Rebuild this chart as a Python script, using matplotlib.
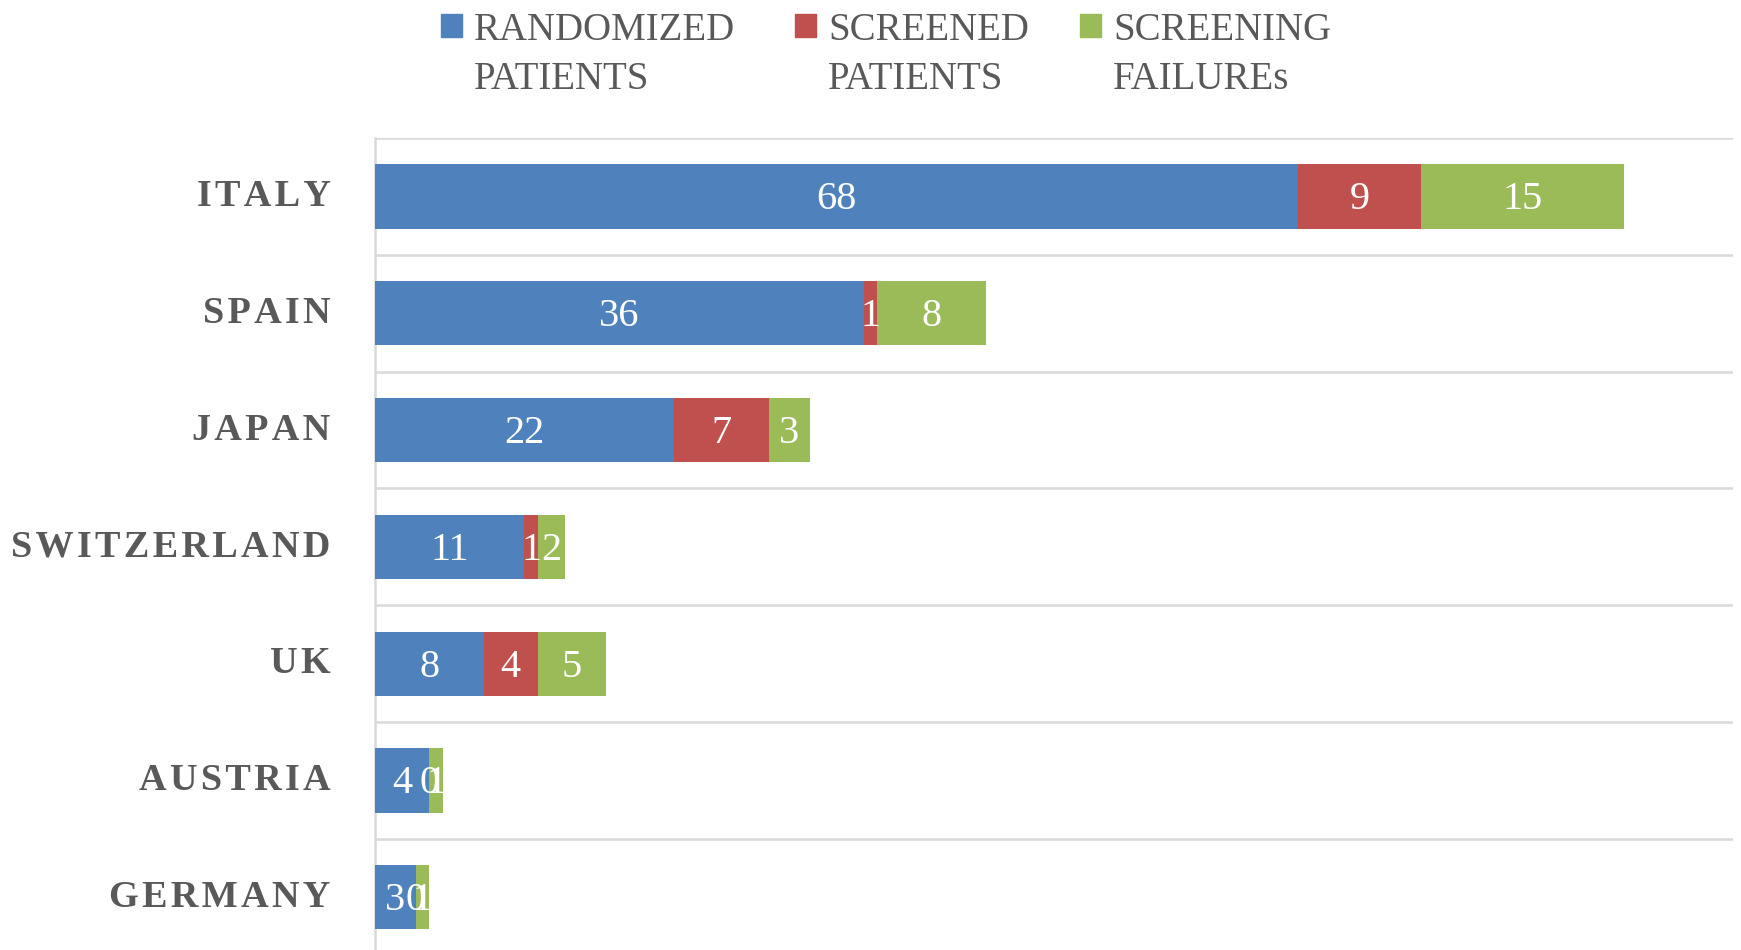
import matplotlib.pyplot as plt
from matplotlib.patches import Rectangle
import numpy as np

# data
countries = ['ITALY', 'SPAIN', 'JAPAN', 'SWITZERLAND', 'UK', 'AUSTRIA', 'GERMANY']
randomized = [68, 36, 22, 11, 8, 4, 3]
screened = [9, 1, 7, 1, 4, 0, 0]
failures = [15, 8, 3, 2, 5, 1, 1]
series_names = ['RANDOMIZED\nPATIENTS', 'SCREENED\nPATIENTS', 'SCREENING\nFAILUREs']
colors = ['#4F81BD', '#C0504D', '#9BBB59']

plt.rcParams['font.family'] = ['Liberation Serif', 'DejaVu Serif']

fig = plt.figure(figsize=(17.41, 9.5), dpi=100)
ax = fig.add_axes([0.2154, -0.006, 0.78, 0.8607])

y = np.arange(len(countries))
left = np.zeros(len(countries))
for vals, name, c in zip([randomized, screened, failures], series_names, colors):
    vals = np.array(vals)
    ax.barh(y, vals, left=left, height=0.55, color=c, label=name, zorder=3)
    for yi, l, v in zip(y, left, vals):
        ax.text(l + v / 2, yi + 0.03, str(v), ha='center', va='center',
                color='white', fontsize=29, zorder=4)
    left = left + vals

# letter spaced category names (hair space between letters)
spaced = ['\u200a'.join(c) for c in countries]

ax.set_xlim(0, 100)
ax.set_ylim(len(countries) - 0.5, -0.5)
ax.set_yticks(y)
ax.set_yticklabels(spaced, fontsize=27.5, fontweight='bold', color='#595959',
                   va='center')
ax.tick_params(axis='y', length=0, pad=32)
ax.set_xticks([])
ax.set_yticks(np.arange(-0.5, len(countries)), minor=True)
ax.tick_params(axis='y', which='minor', length=0)
ax.grid(which='minor', axis='y', color='#d9d9d9', linewidth=1.8, zorder=0)
for s in ['top', 'right', 'bottom']:
    ax.spines[s].set_visible(False)
ax.spines['left'].set_color('#d9d9d9')
ax.spines['left'].set_linewidth(1.8)

# legend drawn by hand so the square sits on the first text line
leg_x = [441, 795, 1080]
for x0, name, c in zip(leg_x, series_names, colors):
    fig.patches.append(Rectangle((x0 / 1741, 1 - 37 / 950), 21 / 1741, 23 / 950,
                                 transform=fig.transFigure, color=c))
    fig.text((x0 + 33) / 1741, 1 - 55 / 950, name, ha='left', va='center',
             fontsize=28, color='#595959', linespacing=1.45)

fig.savefig('out.png', dpi=100)
